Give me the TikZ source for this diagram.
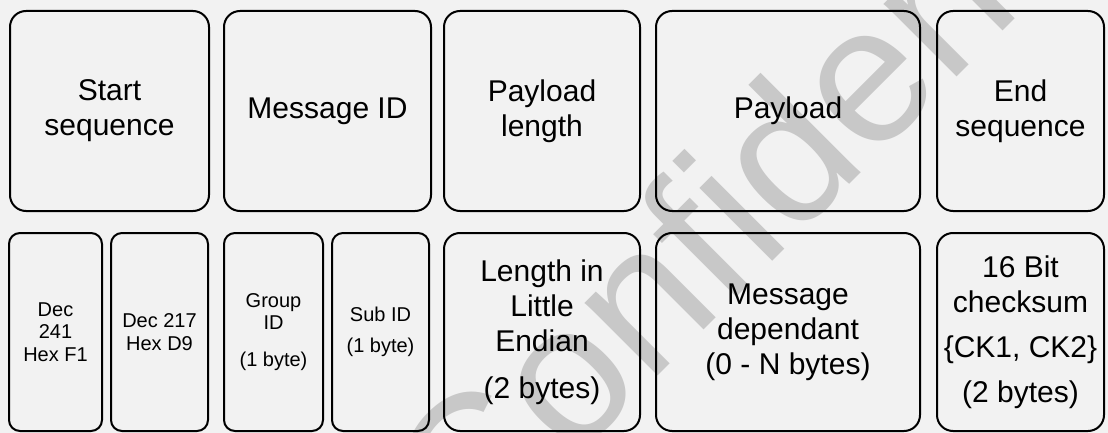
\documentclass[tikz,border=0pt]{standalone}
\usepackage{fontspec}
\setmainfont{Liberation Sans}
\usepackage{tikz}

\definecolor{sheet}{HTML}{F2F2F2}
\definecolor{stamp}{HTML}{C8C8C8}

\begin{document}
\begin{tikzpicture}[x=1pt, y=-1pt, line width=2pt,
        field/.style={draw, rounded corners=16pt, align=center, inner sep=0pt,
            font=\fontsize{30}{35}\selectfont},
        subfield/.style={draw, rounded corners=11pt, align=center, inner sep=0pt,
            font=\fontsize{20}{22.5}\selectfont},
        watermark/.style={text=stamp, rotate=45, anchor=base, inner sep=0pt,
            font=\fontsize{195}{195}\selectfont}]
    \fill[sheet] (0,0) rectangle (1108,433);
    \useasboundingbox (0,0) rectangle (1108,433);
    \node[watermark] (conf) at (836,198) {Confidential};
    \node[field, minimum width=199pt, minimum height=200pt] (start) at (109.5,111) {Start\\sequence};
    \node[field, minimum width=207pt, minimum height=200pt] (msgid) at (327.5,111) {Message ID};
    \node[field, minimum width=196pt, minimum height=200pt] (plen) at (542,111) {Payload\\length};
    \node[field, minimum width=264pt, minimum height=200pt] (payload) at (788,111) {Payload};
    \node[field, minimum width=167pt, minimum height=200pt] (endseq) at (1020.5,111) {End\\sequence};
    \node[subfield, minimum width=93pt, minimum height=198pt] (hexf1) at (55.5,332) {Dec\\241\\Hex F1};
    \node[subfield, minimum width=97pt, minimum height=198pt] (hexd9) at (159.5,332) {Dec 217\\Hex D9};
    \node[subfield, minimum width=99pt, minimum height=198pt] (group) at (273.5,332) {Group\\ID\\[14pt](1 byte)};
    \node[subfield, minimum width=97pt, minimum height=198pt] (subid) at (380.5,332) {Sub ID\\[9pt](1 byte)};
    \node[field, minimum width=196pt, minimum height=198pt] (endian) at (542,332) {Length in\\Little\\Endian\\[12pt](2 bytes)};
    \node[field, minimum width=264pt, minimum height=198pt] (msgdep) at (788,332) {Message\\dependant\\(0 - N bytes)};
    \node[field, minimum width=167pt, minimum height=198pt] (cksum) at (1020.5,332) {16 Bit\\checksum\\[10pt]\{CK1, CK2\}\\[10pt](2 bytes)};
\end{tikzpicture}
\end{document}
